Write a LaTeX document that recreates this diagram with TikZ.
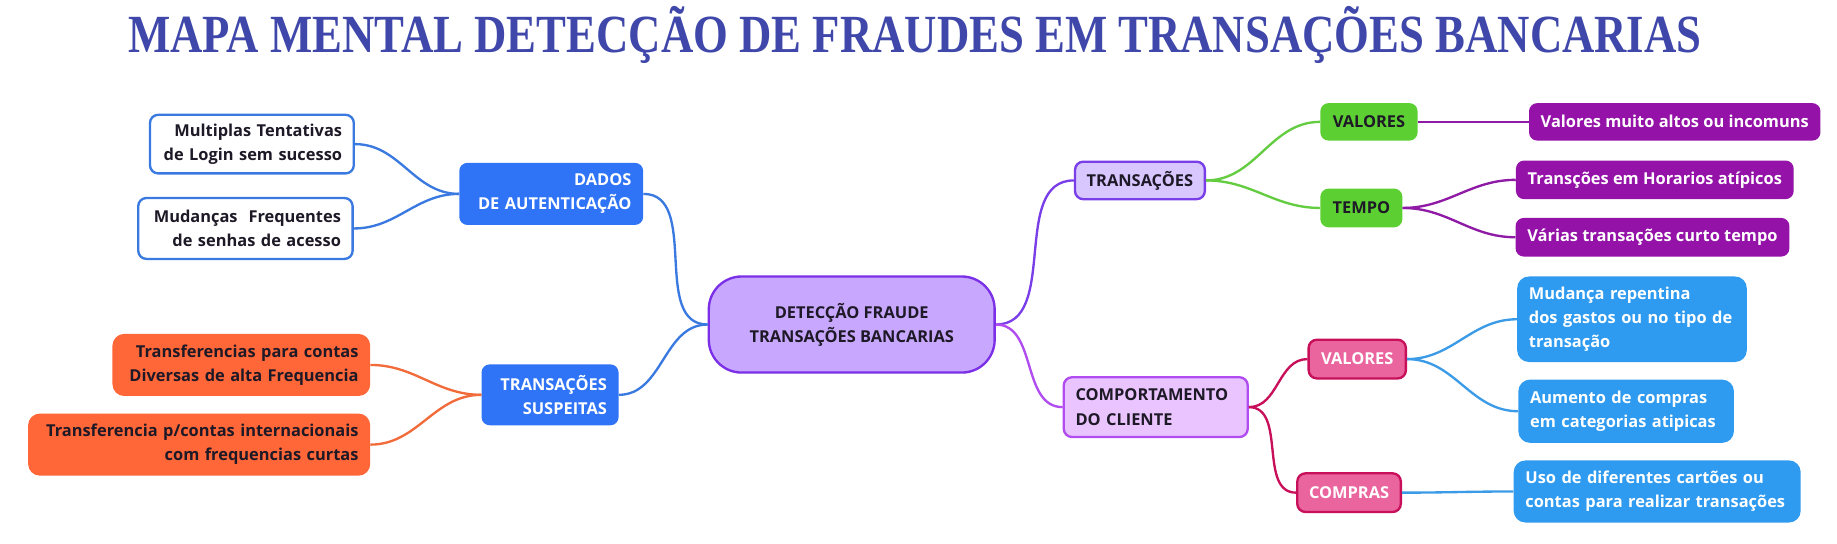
\documentclass[tikz,border=0pt]{standalone}
\usepackage{fontspec}
\setmainfont{Open Sans}
\newfontfamily\titlefont{Liberation Serif}

\definecolor{ink}{RGB}{30,25,38}
\definecolor{titleblue}{RGB}{63,72,170}
\definecolor{authblue}{RGB}{47,116,246}
\definecolor{authline}{RGB}{58,122,224}
\definecolor{susporange}{RGB}{255,102,56}
\definecolor{orangeline}{RGB}{242,107,58}
\definecolor{rootfill}{RGB}{200,168,254}
\definecolor{rootline}{RGB}{123,47,230}
\definecolor{transfill}{RGB}{216,198,255}
\definecolor{transline}{RGB}{122,62,232}
\definecolor{compfill}{RGB}{234,196,255}
\definecolor{compline}{RGB}{176,76,240}
\definecolor{leafgreen}{RGB}{92,208,50}
\definecolor{greenline}{RGB}{99,204,64}
\definecolor{leafpurple}{RGB}{148,18,168}
\definecolor{purpleline}{RGB}{142,26,165}
\definecolor{leafpink}{RGB}{234,100,158}
\definecolor{crimson}{RGB}{200,15,90}
\definecolor{leafsky}{RGB}{47,155,240}
\definecolor{skyline}{RGB}{60,155,230}

\tikzset{
  mapbox/.style={rounded corners=7pt, inner xsep=10pt, inner ysep=0pt,
    font=\fontsize{14}{20.5}\selectfont\bfseries, text=ink},
  boxsz/.style 2 args={minimum width=#1, minimum height=#2},
  link/.style={line width=2pt, out=#1, in=#1+180},
}

\begin{document}
\begin{tikzpicture}[x=1pt,y=-1pt]
\useasboundingbox (0,0) rectangle (1568,464.33);

\node[anchor=base, text=titleblue, font=\titlefont\fontsize{38.2}{40}\selectfont\bfseries]
  (title) at (781,45) {\scalebox{1}[1.2]{MAPA MENTAL DETECÇÃO DE FRAUDES EM TRANSAÇÕES BANCARIAS}};

% centro
\node[mapbox, rounded corners=28pt, fill=rootfill, draw=rootline, line width=2pt,
  boxsz={244}{82}, align=center] (root) at (727,277)
  {DETECÇÃO FRAUDE\\TRANSAÇÕES BANCARIAS};

% lado esquerdo
\node[mapbox, fill=authblue, text=white, boxsz={157}{53}, text width=137pt, align=right]
  (auth) at (470.5,165.5) {DADOS\\DE AUTENTICAÇÃO};
\node[mapbox, fill=white, draw=authline, line width=2pt, boxsz={174}{50}, text width=154pt, align=right]
  (login) at (215,123) {Multiplas Tentativas\\de Login sem sucesso};
\node[mapbox, fill=white, draw=authline, line width=2pt, boxsz={183}{52}, text width=163pt, align=right]
  (senhas) at (209.5,195) {Mudanças~ Frequentes\\de senhas de acesso};

\node[mapbox, fill=authblue, text=white, boxsz={117}{52}, text width=97pt, align=right]
  (susp) at (469.5,337) {TRANSAÇÕES\\SUSPEITAS};
\node[mapbox, rounded corners=10pt, fill=susporange, boxsz={220}{53}, text width=200pt, align=right]
  (diversas) at (206,311.5) {Transferencias para contas\\Diversas de alta Frequencia};
\node[mapbox, rounded corners=10pt, fill=susporange, boxsz={292}{53}, text width=272pt, align=right]
  (intern) at (170,379.5) {Transferencia p/contas internacionais\\com frequencias curtas};

% lado direito
\node[mapbox, fill=transfill, draw=transline, line width=2pt, boxsz={110}{32}]
  (trans) at (973,154) {TRANSAÇÕES};
\node[mapbox, fill=compfill, draw=compline, line width=2pt, boxsz={157}{51}, text width=137pt, align=left]
  (cliente) at (986.5,347.5) {COMPORTAMENTO\\DO CLIENTE};

\node[mapbox, fill=leafgreen, boxsz={83}{32}] (valtr) at (1168.5,104) {VALORES};
\node[mapbox, fill=leafgreen, boxsz={70}{33}] (tempo) at (1162,177.5) {TEMPO};
\node[mapbox, fill=leafpurple, text=white, boxsz={247}{32}] (altos) at (1429.5,104) {Valores muito altos ou incomuns};
\node[mapbox, fill=leafpurple, text=white, boxsz={235}{33}] (horario) at (1412.5,153.5) {Transções em Horarios atípicos};
\node[mapbox, fill=leafpurple, text=white, boxsz={231}{33}] (curto) at (1410.5,202.5) {Várias transações curto tempo};

\node[mapbox, fill=leafpink, draw=crimson, line width=2pt, text=white, boxsz={83}{33}] (valcl) at (1158.5,306.5) {VALORES};
\node[mapbox, fill=leafpink, draw=crimson, line width=2pt, text=white, boxsz={87}{33}] (compras) at (1151.5,420.5) {COMPRAS};
\node[mapbox, rounded corners=10pt, fill=leafsky, text=white, boxsz={196}{73}, text width=176pt, align=left]
  (gastos) at (1393,272.5) {Mudança repentina\\dos gastos ou no tipo de\\transação};
\node[mapbox, rounded corners=10pt, fill=leafsky, text=white, boxsz={184}{54}, text width=164pt, align=left]
  (categ) at (1388,351) {Aumento de compras\\em categorias atipicas};
\node[mapbox, rounded corners=10pt, fill=leafsky, text=white, boxsz={245}{53}, text width=225pt, align=left]
  (cartoes) at (1414.5,419.5) {Uso de diferentes cartões ou\\contas para realizar transações};

% ligacoes
\draw[authline, link=180] (root.west) to (auth.east);
\draw[authline, link=180] (root.west) to (susp.east);
\draw[authline, link=180] (auth.west) to (login.east);
\draw[authline, link=180] (auth.west) to (senhas.east);
\draw[orangeline, link=180] (susp.west) to (diversas.east);
\draw[orangeline, link=180] (susp.west) to (intern.east);

\draw[transline, link=0] (root.east) to (trans.west);
\draw[compline, link=0] (root.east) to (cliente.west);
\draw[greenline, link=0] (trans.east) to (valtr.west);
\draw[greenline, link=0] (trans.east) to (tempo.west);
\draw[purpleline, line width=2pt] (valtr.east) -- (altos.west);
\draw[purpleline, link=0] (tempo.east) to (horario.west);
\draw[purpleline, link=0] (tempo.east) to (curto.west);
\draw[crimson, link=0] (cliente.east) to (valcl.west);
\draw[crimson, link=0] (cliente.east) to (compras.west);
\draw[skyline, link=0] (valcl.east) to (gastos.west);
\draw[skyline, link=0] (valcl.east) to (categ.west);
\draw[skyline, link=0] (compras.east) to (cartoes.west);
\end{tikzpicture}
\end{document}
